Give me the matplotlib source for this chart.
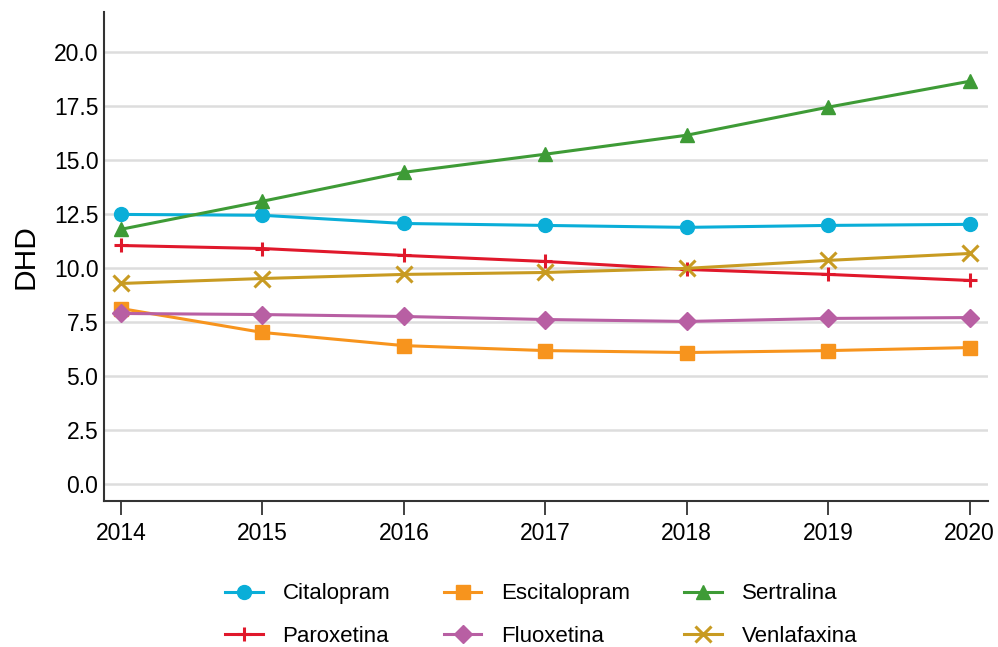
import matplotlib
matplotlib.use("Agg")
import matplotlib.pyplot as plt

plt.rcParams['font.family'] = ['Liberation Sans', 'DejaVu Sans']

years = [2014, 2015, 2016, 2017, 2018, 2019, 2020]
citalopram = [12.48, 12.44, 12.06, 11.97, 11.88, 11.97, 12.02]
escitalopram = [8.12, 7.01, 6.40, 6.17, 6.08, 6.17, 6.31]
sertralina = [11.79, 13.09, 14.43, 15.27, 16.15, 17.45, 18.65]
paroxetina = [11.04, 10.90, 10.58, 10.30, 9.93, 9.70, 9.42]
fluoxetina = [7.89, 7.84, 7.75, 7.61, 7.52, 7.66, 7.70]
venlafaxina = [9.28, 9.51, 9.70, 9.79, 9.98, 10.35, 10.67]
yticks = [0.0, 2.5, 5.0, 7.5, 10.0, 12.5, 15.0, 17.5, 20.0]

series = [
    ("Citalopram", citalopram, "#0AAED8", "o", 10),
    ("Escitalopram", escitalopram, "#F7941D", "s", 9.5),
    ("Sertralina", sertralina, "#3E9B36", "^", 10.5),
    ("Paroxetina", paroxetina, "#E0182B", "+", 10),
    ("Fluoxetina", fluoxetina, "#B85FA3", "D", 9),
    ("Venlafaxina", venlafaxina, "#C89B22", "x", 12),
]

fig = plt.figure(figsize=(9.98, 6.47), dpi=100)
ax = fig.add_axes([104/998, 1-501/647, 884/998, 489/647])

handles = {}
for name, vals, col, mk, ms in series:
    kw = {}
    if mk in ("+", "x"):
        kw = dict(markeredgewidth=2.2)
    h, = ax.plot(years, vals, color=col, marker=mk, markersize=ms, linewidth=2.2,
                 label=name, **kw)
    handles[name] = h

ax.set_xlim(2013.88, 2020.13)
ax.set_ylim(-0.80, 21.86)
ax.set_xticks(years)
ax.set_yticks(yticks)
ax.set_yticklabels([f"{t:.1f}" for t in yticks])
ax.tick_params(labelsize=16.5, color="#333333")
ax.tick_params(axis="x", length=10, width=1.3, pad=5)
ax.tick_params(axis="y", length=0, pad=4)
ax.yaxis.grid(True, color="#DDDDDD", linewidth=1.8)
ax.set_axisbelow(True)
for s in ("top", "right"):
    ax.spines[s].set_visible(False)
for s in ("left", "bottom"):
    ax.spines[s].set_linewidth(1.5)
    ax.spines[s].set_color("#333333")
ax.set_ylabel("DHD", fontsize=21.5, labelpad=10)

order = ["Citalopram", "Paroxetina", "Escitalopram", "Fluoxetina", "Sertralina", "Venlafaxina"]
leg_kw = dict(loc="center", bbox_to_anchor=(541/998, 1-615/647), ncol=3,
              frameon=False, fontsize=16, columnspacing=2.4, handlelength=1.7,
              labelspacing=0.95, handletextpad=0.9)
fig.legend([handles[n] for n in order], order, **leg_kw)

fig.savefig("out.png", dpi=100)
